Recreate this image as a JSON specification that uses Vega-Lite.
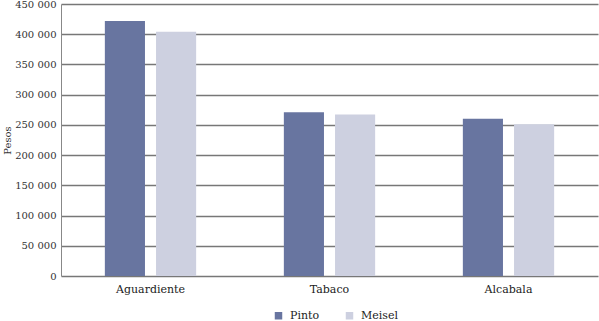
{
  "$schema": "https://vega.github.io/schema/vega-lite/v6.json",
  "autosize": "none",
  "width": 537,
  "height": 272,
  "padding": {"left": 61, "top": 4, "right": 1, "bottom": 45},
  "background": "white",
  "data": {"values": [
    {"categoria": "Aguardiente", "fuente": "Pinto", "pesos": 422000},
    {"categoria": "Aguardiente", "fuente": "Meisel", "pesos": 404000},
    {"categoria": "Tabaco", "fuente": "Pinto", "pesos": 271000},
    {"categoria": "Tabaco", "fuente": "Meisel", "pesos": 267000},
    {"categoria": "Alcabala", "fuente": "Pinto", "pesos": 260000},
    {"categoria": "Alcabala", "fuente": "Meisel", "pesos": 251000}
  ]},
  "mark": {"type": "bar"},
  "encoding": {
    "x": {
      "field": "categoria", "type": "nominal",
      "sort": ["Aguardiente", "Tabaco", "Alcabala"],
      "scale": {"paddingInner": 0.49, "paddingOuter": 0.245},
      "axis": {"title": null, "labelAngle": 0, "ticks": false, "domain": false, "labelPadding": 7, "labelFontSize": 11, "labelColor": "#222"}
    },
    "xOffset": {
      "field": "fuente", "type": "nominal",
      "sort": ["Pinto", "Meisel"],
      "scale": {"paddingInner": 0.216, "paddingOuter": 0}
    },
    "y": {
      "field": "pesos", "type": "quantitative",
      "scale": {"domain": [0, 450000], "nice": false},
      "axis": {"title": "Pesos", "values": [0, 50000, 100000, 150000, 200000, 250000, 300000, 350000, 400000, 450000], "labelOverlap": false, "ticks": false, "labelPadding": 5, "labelFontSize": 10, "labelColor": "#333", "titleFontSize": 10, "titleFontWeight": "normal", "titleColor": "#333", "titlePadding": 2, "domainColor": "#888", "gridColor": "#777", "gridWidth": 1.3, "labelFlush": false}
    },
    "color": {
      "field": "fuente", "type": "nominal",
      "sort": ["Pinto", "Meisel"],
      "scale": {"domain": ["Pinto", "Meisel"], "range": ["#6875a0", "#cdd0e0"]},
      "legend": {"title": null, "orient": "none", "legendX": 212, "legendY": 306, "direction": "horizontal", "symbolType": "square", "symbolSize": 56, "symbolStrokeWidth": 0, "labelFontSize": 11, "labelColor": "#222", "columnPadding": 24, "labelOffset": 6}
    }
  },
  "config": {
    "font": "DejaVu Serif",
    "view": {"stroke": null},
    "locale": {"number": {"decimal": ",", "thousands": " ", "grouping": [3], "currency": ["", ""]}}
  }
}
